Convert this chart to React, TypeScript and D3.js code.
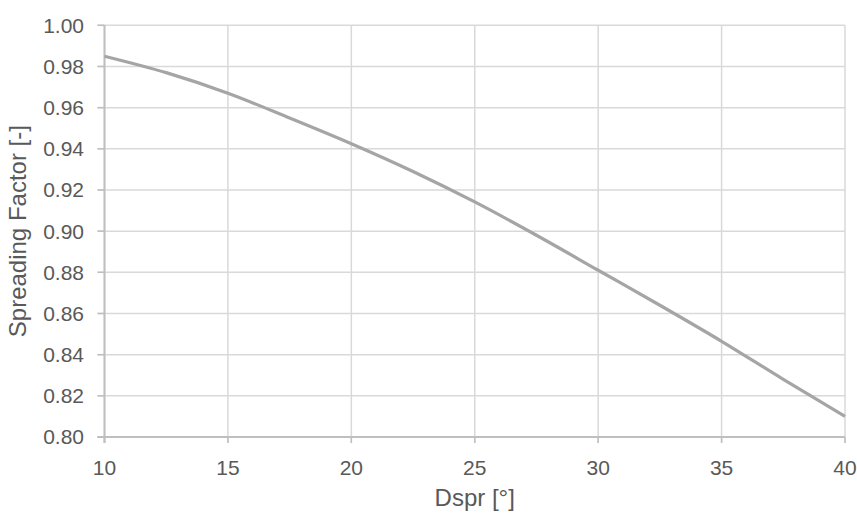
import React from "react";
import * as d3 from "d3";

const dsprValues = [10, 12.5, 15, 17.5, 20, 22.5, 25, 27.5, 30, 32.5, 35, 37.5, 40];
const factorValues = [0.985, 0.977, 0.967, 0.955, 0.9425, 0.929, 0.9142, 0.898, 0.881, 0.864, 0.8465, 0.828, 0.810];
const xTicks = [10, 15, 20, 25, 30, 35, 40];
const yTicks = [0.8, 0.82, 0.84, 0.86, 0.88, 0.9, 0.92, 0.94, 0.96, 0.98, 1.0];
const xTitle = "Dspr [°]";
const yTitle = "Spreading Factor [-]";

const W = 857;
const H = 518;
const M = { left: 104.5, right: 845, top: 25.3, bottom: 437 };

export default function App() {
  const x = d3.scaleLinear().domain([10, 40]).range([M.left, M.right]);
  const y = d3.scaleLinear().domain([0.8, 1.0]).range([M.bottom, M.top]);
  const pts: [number, number][] = dsprValues.map((d, i) => [d, factorValues[i]]);
  const line = d3
    .line<[number, number]>()
    .x((d) => x(d[0]))
    .y((d) => y(d[1]))
    .curve(d3.curveCatmullRom.alpha(0.5));
  const font = "'Liberation Sans', Arial, sans-serif";
  const textColor = "#595959";
  return (
    <svg
      width={W}
      height={H}
      style={{ position: "absolute", left: 0, top: 0, background: "#fff" }}
      fontFamily={font}
    >
      {/* horizontal gridlines */}
      {yTicks.map((t) => (
        <line
          key={"hy" + t}
          x1={M.left - 7}
          x2={M.right}
          y1={y(t)}
          y2={y(t)}
          stroke="#d9d9d9"
          strokeWidth={1.5}
        />
      ))}
      {/* vertical gridlines */}
      {xTicks.map((t) => (
        <line
          key={"vx" + t}
          x1={x(t)}
          x2={x(t)}
          y1={M.top}
          y2={M.bottom + 6}
          stroke="#d9d9d9"
          strokeWidth={1.5}
        />
      ))}
      {/* axis lines */}
      <line x1={M.left} x2={M.left} y1={M.top} y2={M.bottom + 6} stroke="#bfbfbf" strokeWidth={2} />
      <line x1={M.left - 7} x2={M.right} y1={M.bottom} y2={M.bottom} stroke="#bfbfbf" strokeWidth={2} />
      {yTicks.map((t) => (
        <line key={"ty" + t} x1={M.left - 7} x2={M.left} y1={y(t)} y2={y(t)} stroke="#bfbfbf" strokeWidth={1.5} />
      ))}
      {xTicks.map((t) => (
        <line key={"tx" + t} x1={x(t)} x2={x(t)} y1={M.bottom} y2={M.bottom + 6} stroke="#bfbfbf" strokeWidth={1.5} />
      ))}
      {/* data line */}
      <path d={line(pts) || ""} fill="none" stroke="#a5a5a5" strokeWidth={3.2} />
      {/* y tick labels */}
      {yTicks.map((t) => (
        <text
          key={"ly" + t}
          x={84}
          y={y(t)}
          dy="0.35em"
          textAnchor="end"
          fontSize={21}
          fill={textColor}
        >
          {d3.format(".2f")(t)}
        </text>
      ))}
      {/* x tick labels */}
      {xTicks.map((t) => (
        <text key={"lx" + t} x={x(t)} y={474.5} textAnchor="middle" fontSize={21} fill={textColor}>
          {t}
        </text>
      ))}
      <text x={(M.left + M.right) / 2} y={506} textAnchor="middle" fontSize={24} fill={textColor}>
        {xTitle}
      </text>
      <text
        transform={`translate(26, ${(M.top + M.bottom) / 2}) rotate(-90)`}
        textAnchor="middle"
        fontSize={24}
        fill={textColor}
      >
        {yTitle}
      </text>
    </svg>
  );
}
